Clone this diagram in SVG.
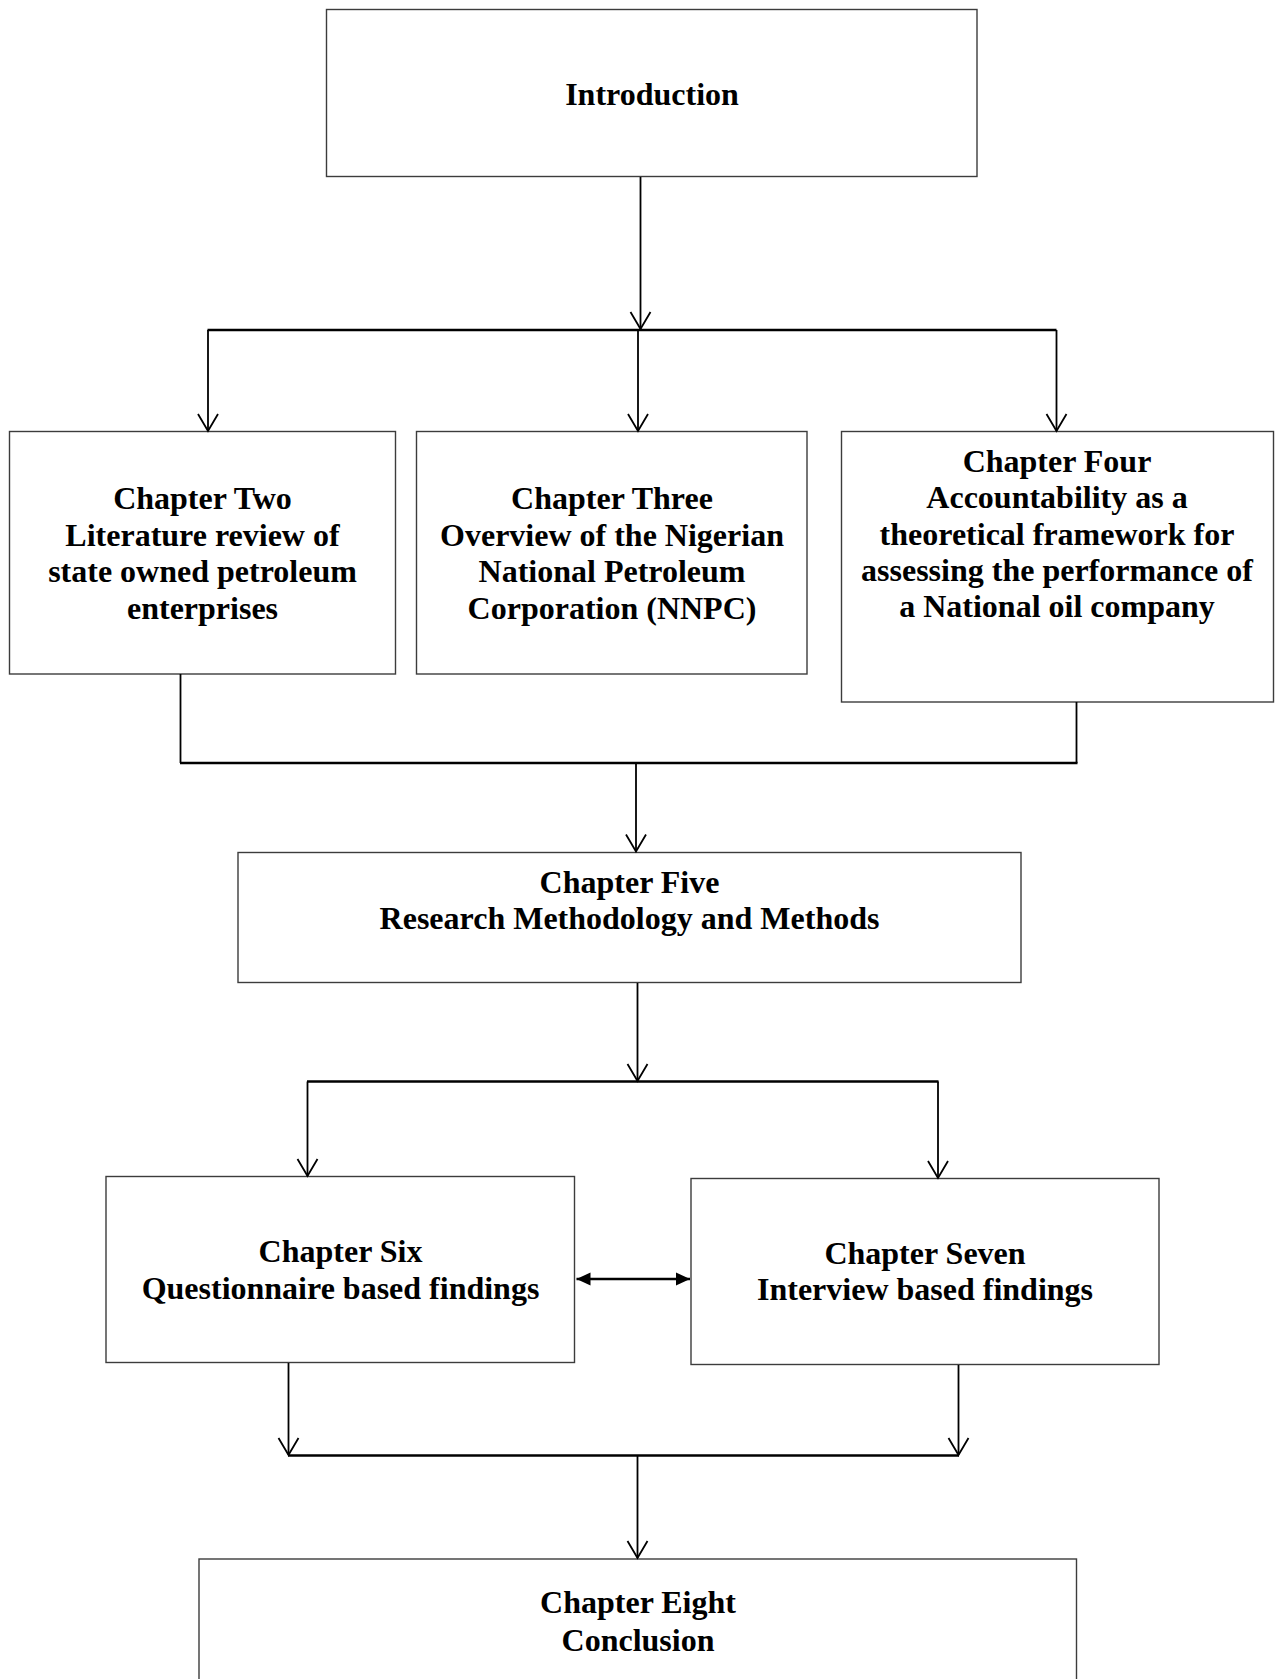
<svg xmlns="http://www.w3.org/2000/svg" width="1277" height="1679" viewBox="0 0 1277 1679">
  <style>
    .box { fill: #ffffff; stroke: #3c3c3c; stroke-width: 1.4; }
    .lbl { font-family: "Liberation Serif", "Times New Roman", serif; font-weight: bold; font-size: 32px; fill: #000000; text-anchor: middle; }
    .wire { fill: none; stroke: #000000; stroke-width: 1.8; }
    .bar { fill: none; stroke: #000000; stroke-width: 2.4; }
    .link { fill: none; stroke: #000000; stroke-width: 2.6; }
  </style>
  <defs>
    <marker id="open" markerUnits="userSpaceOnUse" markerWidth="21" markerHeight="24" viewBox="-19 -12 21 24" refX="0" refY="0" orient="auto-start-reverse">
      <path d="M-17,-10 L0,0 L-17,10" fill="none" stroke="#000" stroke-width="1.8"/>
    </marker>
    <marker id="solid" markerUnits="userSpaceOnUse" markerWidth="16" markerHeight="16" viewBox="-15 -8 16 16" refX="0" refY="0" orient="auto-start-reverse">
      <path d="M0,0 L-14,-6.5 L-14,6.5 Z" fill="#000"/>
    </marker>
  </defs>
  <rect width="1277" height="1679" fill="#ffffff"/>

  <g id="introduction">
    <rect class="box" x="326.5" y="9.5" width="650.5" height="167"/>
    <text class="lbl" x="652" y="105">Introduction</text>
  </g>

  <g id="chapter-two">
    <rect class="box" x="9.5" y="431.5" width="386" height="242.5"/>
    <text class="lbl" x="202.5" y="509">Chapter Two</text>
    <text class="lbl" x="202.5" y="545.5">Literature review of</text>
    <text class="lbl" x="202.5" y="582">state owned petroleum</text>
    <text class="lbl" x="202.5" y="618.5">enterprises</text>
  </g>

  <g id="chapter-three">
    <rect class="box" x="416.5" y="431.5" width="390.5" height="242.5"/>
    <text class="lbl" x="612" y="509">Chapter Three</text>
    <text class="lbl" x="612" y="545.5">Overview of the Nigerian</text>
    <text class="lbl" x="612" y="582">National Petroleum</text>
    <text class="lbl" x="612" y="618.5">Corporation (NNPC)</text>
  </g>

  <g id="chapter-four">
    <rect class="box" x="841.5" y="431.5" width="432" height="270.5"/>
    <text class="lbl" x="1057" y="472">Chapter Four</text>
    <text class="lbl" x="1057" y="508">Accountability as a</text>
    <text class="lbl" x="1057" y="544.5">theoretical framework for</text>
    <text class="lbl" x="1057" y="580.5">assessing the performance of</text>
    <text class="lbl" x="1057" y="617">a National oil company</text>
  </g>

  <g id="chapter-five">
    <rect class="box" x="238" y="852.5" width="783" height="130"/>
    <text class="lbl" x="629.5" y="893">Chapter Five</text>
    <text class="lbl" x="629.5" y="928.5">Research Methodology and Methods</text>
  </g>

  <g id="chapter-six">
    <rect class="box" x="106" y="1176.5" width="468.5" height="186"/>
    <text class="lbl" x="340.5" y="1261.5">Chapter Six</text>
    <text class="lbl" x="340.5" y="1298.5">Questionnaire based findings</text>
  </g>

  <g id="chapter-seven">
    <rect class="box" x="691" y="1178.5" width="468" height="186"/>
    <text class="lbl" x="925" y="1263.5">Chapter Seven</text>
    <text class="lbl" x="925" y="1299.5">Interview based findings</text>
  </g>

  <g id="chapter-eight">
    <rect class="box" x="199" y="1559" width="877.5" height="140"/>
    <text class="lbl" x="638" y="1613">Chapter Eight</text>
    <text class="lbl" x="638" y="1650.5">Conclusion</text>
  </g>

  <g id="connectors">
    <!-- Introduction fans out to chapters two, three and four -->
    <line class="wire" x1="640.5" y1="177" x2="640.5" y2="329" marker-end="url(#open)"/>
    <line class="bar" x1="207.5" y1="330" x2="1056.5" y2="330"/>
    <line class="wire" x1="208" y1="330" x2="208" y2="431" marker-end="url(#open)"/>
    <line class="wire" x1="638" y1="330" x2="638" y2="431" marker-end="url(#open)"/>
    <line class="wire" x1="1056.5" y1="330" x2="1056.5" y2="431" marker-end="url(#open)"/>

    <!-- chapters two and four merge into chapter five -->
    <line class="wire" x1="180.5" y1="674" x2="180.5" y2="763"/>
    <line class="wire" x1="1076.5" y1="702" x2="1076.5" y2="763"/>
    <line class="bar" x1="180" y1="763" x2="1077.5" y2="763"/>
    <line class="wire" x1="636" y1="763" x2="636" y2="851.5" marker-end="url(#open)"/>

    <!-- chapter five splits into chapters six and seven -->
    <line class="wire" x1="637.5" y1="983" x2="637.5" y2="1081" marker-end="url(#open)"/>
    <line class="bar" x1="307" y1="1081.5" x2="938.5" y2="1081.5"/>
    <line class="wire" x1="307.5" y1="1081.5" x2="307.5" y2="1176" marker-end="url(#open)"/>
    <line class="wire" x1="938" y1="1081.5" x2="938" y2="1178" marker-end="url(#open)"/>

    <!-- two-way link between chapters six and seven -->
    <line class="link" x1="576.5" y1="1279" x2="690" y2="1279" marker-start="url(#solid)" marker-end="url(#solid)"/>

    <!-- chapters six and seven converge on chapter eight -->
    <line class="wire" x1="288.5" y1="1363" x2="288.5" y2="1455" marker-end="url(#open)"/>
    <line class="wire" x1="958.5" y1="1365" x2="958.5" y2="1455" marker-end="url(#open)"/>
    <line class="bar" x1="288" y1="1455.5" x2="959" y2="1455.5"/>
    <line class="wire" x1="637.5" y1="1455.5" x2="637.5" y2="1558" marker-end="url(#open)"/>
  </g>
</svg>
